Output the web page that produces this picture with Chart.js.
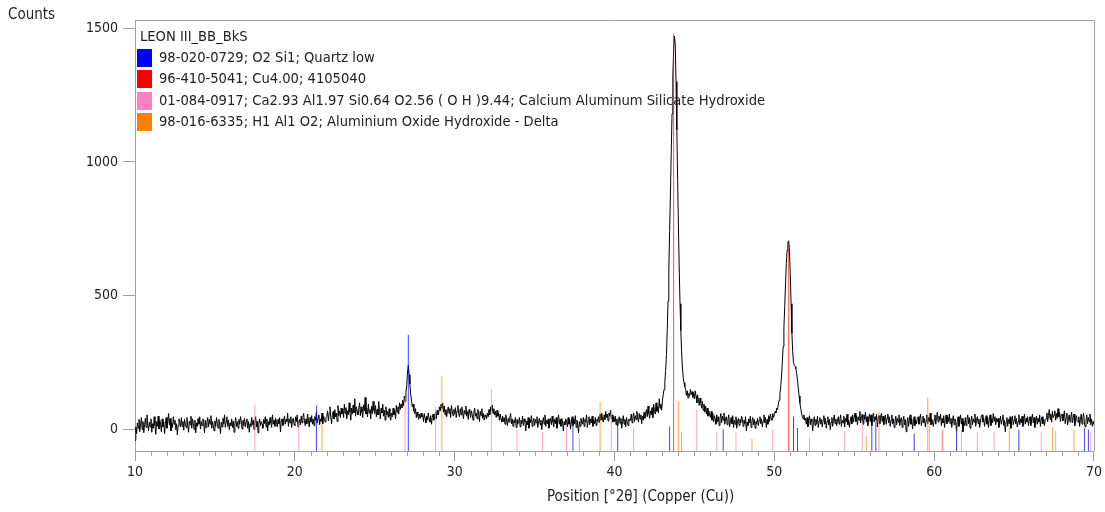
<!DOCTYPE html>
<html>
<head>
<meta charset="utf-8">
<script src="https://cdn.jsdelivr.net/npm/chart.js@4.4.1/dist/chart.umd.min.js"></script>
<style>
  html, body { margin: 0; padding: 0; background: #ffffff; }
  #wrap { position: relative; width: 1105px; height: 512px; }
</style>
</head>
<body>
<div id="wrap"><canvas id="c" width="1105" height="512"></canvas></div>
<script>
// Diffractogram, 10–70 °2θ, one count value every 0.05° (one row per degree)
const thetaStart = 10;
const thetaStep = 0.05;
const counts = [
  -40, 10, -15, 25, 5, 38, -8, 20, 45, 0, 30, -12, 18, 42, 8, 55, 15, -5, 28, 10,        // 10
  40, -10, 22, 5, 48, 15, -18, 30, 12, 50, 2, 35, 20, -8, 40, 10, 28, -15, 22, 45,       // 11
  5, 30, 60, 18, 42, -5, 25, 8, 48, 20, 35, 0, 22, -20, 15, 40, 28, 10, 45, 12,          // 12
  30, -2, 38, 20, 8, 45, 15, -10, 32, 18, 50, 5, 40, 22, 0, 35, -12, 25, 12, 42,         // 13
  20, 48, 2, 30, 15, 40, 25, -12, 35, 8, 28, 45, 10, 38, 20, 52, 5, 30, 15, -5,          // 14
  32, 12, 45, 22, 5, 38, 18, -15, 28, 10, 42, 20, 55, 8, 30, 48, 12, 35, 0, 25,          // 15
  15, 40, 8, 32, -10, 25, 45, 12, 30, 5, 38, 20, 48, 28, 2, 35, 15, 42, 10, 28,          // 16
  40, 5, 30, -10, 22, 12, 45, 18, 35, 0, 28, 48, 10, 32, -12, 25, 40, 15, 30, 20,        // 17
  5, 38, 22, 48, 10, 40, -5, 30, 18, 45, 25, 8, 55, 20, 35, 12, 42, 28, 10, 38,          // 18
  22, 45, -8, 32, 40, 15, 28, 50, 20, 38, 30, 62, 12, 40, 25, 48, 8, 35, 42, 20,         // 19
  15, 48, 30, 55, 10, 28, 38, 18, 50, 25, 45, 60, 32, 15, 40, 22, 58, 35, 10, 45,        // 20
  28, 52, 20, 40, 15, 48, 35, 65, 25, 42, 55, 18, 40, 30, 62, 22, 50, 38, 28, 45,        // 21
  50, 70, 32, 60, 85, 45, 22, 55, 68, 40, 75, 48, 62, 30, 90, 52, 70, 45, 80, 58,        // 22
  78, 45, 95, 60, 82, 40, 70, 55, 100, 65, 35, 80, 58, 92, 62, 115, 50, 85, 70, 55,      // 23
  75, 100, 52, 85, 65, 45, 92, 70, 120, 58, 80, 48, 95, 62, 75, 40, 88, 60, 105, 72,     // 24
  60, 90, 48, 75, 55, 105, 68, 40, 80, 62, 95, 50, 72, 35, 85, 55, 68, 45, 78, 50,       // 25
  35, 62, 48, 80, 55, 72, 40, 90, 65, 85, 58, 100, 75, 95, 82, 110, 90, 125, 105, 140,   // 26
  165, 215, 240, 205, 170, 130, 110, 85, 95, 70, 60, 78, 45, 65, 50, 38, 58, 42, 62, 48, // 27
  55, 30, 60, 42, 25, 50, 35, 62, 40, 28, 52, 20, 45, 58, 35, 48, 65, 40, 72, 55,        // 28
  60, 85, 70, 95, 80, 100, 65, 88, 55, 75, 48, 70, 85, 60, 78, 45, 90, 68, 52, 75,       // 29
  58, 82, 45, 70, 90, 60, 48, 78, 55, 85, 65, 40, 72, 58, 88, 50, 68, 38, 75, 62,        // 30
  45, 70, 55, 35, 65, 80, 50, 62, 40, 75, 58, 30, 68, 52, 78, 42, 60, 35, 55, 48,        // 31
  40, 62, 48, 75, 55, 85, 70, 92, 60, 78, 55, 68, 45, 72, 50, 62, 35, 58, 40, 28,        // 32
  50, 30, 45, 20, 55, 38, 15, 42, 28, 48, 60, 22, 40, 12, 35, 25, 45, 8, 38, 20,         // 33
  30, 45, 10, 35, 22, 50, 15, 40, 28, -5, 32, 18, 45, 5, 38, 25, 52, 12, 30, 42,         // 34
  15, 38, 25, 48, 8, 30, 42, 18, 35, 0, 28, 45, 20, 55, 12, 35, 22, 40, 5, 30,           // 35
  42, 18, 50, 28, 10, 38, 22, 45, 5, 32, 55, 20, 38, 12, 42, 28, -5, 30, 18, 40,         // 36
  32, 10, 45, 20, 38, 2, 28, 48, 15, 40, 22, 52, 8, 35, 18, -12, 30, 12, 42, 25,         // 37
  20, 45, 12, 38, 28, 55, 8, 32, 48, 18, 40, 25, 50, 12, 35, 22, 45, 15, 38, 30,         // 38
  48, 25, 58, 35, 62, 40, 28, 55, 38, 68, 45, 58, 32, 62, 50, 72, 40, 55, 28, 48,        // 39
  30, 50, 18, 40, 12, 35, 48, 22, 42, 5, 30, 52, 20, 38, 10, 45, 28, 15, 40, 32,         // 40
  35, 58, 25, 48, 62, 30, 52, 38, 68, 45, 28, 60, 40, 55, 22, 50, 35, 65, 42, 58,        // 41
  75, 48, 88, 60, 42, 70, 55, 82, 45, 95, 72, 58, 100, 68, 85, 62, 115, 80, 95, 72,      // 42
  110, 130, 150, 180, 220, 280, 370, 480, 600, 740, 880, 1030, 1180, 1320, 1420, 1470, 1440, 1300, 1120, 930, // 43
  760, 600, 470, 370, 290, 230, 195, 175, 160, 150, 128, 145, 118, 135, 125, 150, 130, 142, 120, 138,       // 44
  115, 145, 125, 100, 130, 110, 90, 118, 100, 80, 105, 72, 95, 65, 88, 58, 80, 50, 70, 55,                  // 45
  45, 68, 35, 60, 28, 52, 40, 20, 55, 30, 48, 15, 42, 60, 25, 50, 35, 62, 20, 40,        // 46
  48, 18, 38, 55, 10, 30, 45, 22, 52, 8, 35, 20, 48, 5, 32, 42, 15, 38, 25, 50,          // 47
  40, 12, 35, 22, 48, -5, 28, 15, 40, 25, 50, 8, 32, 45, 18, 38, 5, 30, 20, 42,          // 48
  15, 35, 48, 22, 40, 10, 32, 55, 25, 45, 8, 38, 20, 52, 30, 58, 42, 35, 60, 45,         // 49
  55, 68, 62, 80, 75, 95, 110, 135, 160, 200, 250, 310, 380, 460, 540, 620, 670, 700, 705, 660, // 50
  580, 470, 360, 290, 250, 240, 235, 228, 210, 185, 155, 125, 100, 80, 62, 48, 40, 55, 35, 42,  // 51
  20, 45, 10, 35, 52, 18, 40, 28, -5, 30, 48, 15, 38, 22, 50, 8, 32, 45, 20, 38,         // 52
  10, 35, 52, 20, 42, 5, 30, 48, 18, 38, 0, 28, 45, 12, 35, 55, 22, 40, 15, 30,          // 53
  48, 20, 38, 55, 12, 35, 25, 50, 10, 42, 28, 58, 18, 35, 8, 30, 48, 22, 55, 28,         // 54
  45, 62, 30, 52, 18, 48, 35, 68, 25, 45, 58, 20, 55, 38, 65, 28, 48, 15, 40, 58,        // 55
  30, 55, 15, 42, 62, 28, 48, 35, 58, 10, 38, 52, 22, 45, 60, 30, 50, 18, 40, 55,        // 56
  20, 42, 58, 25, 48, 12, 35, 55, 22, 40, 8, 32, 50, 18, 42, 28, 55, 15, 38, 45,         // 57
  8, 32, 50, 18, 38, -8, 25, 45, 12, 35, 55, 20, 40, 2, 28, 48, 15, 35, 22, 42,          // 58
  48, 20, 40, 58, 15, 32, 50, 25, 42, 10, 35, 55, 22, 45, 30, 62, 18, 40, 28, 12,        // 59
  38, 55, 20, 45, 65, 28, 50, 35, 58, 15, 42, 25, 52, 8, 38, 55, 22, 48, 30, 58,         // 60
  22, 42, 8, 35, 52, 18, 40, 28, -5, 30, 48, 12, 38, 55, 20, 42, -8, 30, 15, 45,         // 61
  15, 38, 55, 22, 45, 5, 32, 50, 18, 40, 28, 58, 12, 35, 48, 22, 40, 8, 32, 50,          // 62
  55, 28, 42, 12, 35, 52, 20, 45, 8, 38, 55, 15, 40, 25, 60, 32, 48, 18, 42, 28,         // 63
  42, 8, 32, 50, 20, 38, 55, 15, 35, -8, 28, 45, 12, 38, 22, 48, 5, 30, 50, 18,          // 64
  35, 52, 22, 42, 10, 30, 55, 18, 40, 25, 50, 12, 38, 58, 20, 42, 28, 48, 15, 35,        // 65
  48, 15, 38, 58, 25, 45, 8, 32, 50, 20, 42, 28, 55, 12, 35, 48, 22, 40, 15, 38,         // 66
  40, 62, 30, 52, 75, 38, 58, 28, 68, 45, 55, 70, 35, 60, 42, 78, 48, 65, 30, 55,        // 67
  58, 32, 50, 70, 22, 45, 62, 18, 40, 55, 28, 48, 65, 25, 42, 58, 15, 38, 52, 30,        // 68
  28, 48, 12, 38, 58, 20, 42, 62, 25, 10, 35, 55, 22, 45, 30, 58, 18, 40, 12, 30,        // 69
  20                                                                                     // 70
];

// Axis settings
const xMin = 10, xMax = 70;
const yMin = -80, yMax = 1530;
const xTickValues = [10, 20, 30, 40, 50, 60, 70];
const yTickValues = [0, 500, 1000, 1500];
const xAxisTitle = 'Position [°2θ] (Copper (Cu))';
const yAxisTitle = 'Counts';

// Legend
const sampleName = 'LEON III_BB_BkS';
const phaseLabels = [
  '98-020-0729; O2 Si1; Quartz low',
  '96-410-5041; Cu4.00; 4105040',
  '01-084-0917; Ca2.93 Al1.97 Si0.64 O2.56 ( O H )9.44; Calcium Aluminum Silicate Hydroxide',
  '98-016-6335; H1 Al1 O2; Aluminium Oxide Hydroxide - Delta'
];
const phaseColors = ['#0000ff', '#ff0000', '#ff80c0', '#ff8000'];
const stickColors = ['rgba(0,0,255,0.75)', 'rgba(255,0,0,0.7)', 'rgba(255,128,192,0.75)', 'rgba(255,128,0,0.7)'];

// Reference patterns: stick positions (°2θ) and the count level each stick reaches
const quartzPos = [21.35, 27.1, 37.4, 40.2, 43.45, 46.8, 51.2, 51.45, 56.1, 56.35, 58.75, 61.4, 65.3, 69.4, 69.65];
const quartzTop = [90, 355, 22, 10, 12, 2, 48, 6, 18, 28, -15, 8, 0, 6, 0];
const copperPos = [43.7, 50.9];
const copperTop = [1480, 690];
const silicatePos = [17.5, 20.25, 26.9, 28.8, 32.3, 33.9, 35.5, 37.0, 39.8, 41.2, 45.15, 46.4, 47.6, 49.9, 52.2, 54.4, 55.5, 59.7, 60.55, 61.7, 62.7, 63.75, 66.7, 67.6, 69.8];
const silicateTop = [94, 25, 120, 85, 150, 0, -8, 8, 75, 8, 75, -8, -10, 0, -30, -5, 28, 20, 0, 0, -10, -10, -10, -5, -10];
const boehmitePos = [21.7, 29.2, 37.8, 39.1, 44.0, 44.2, 48.6, 55.75, 56.55, 59.6, 60.5, 64.7, 67.4, 68.75];
const boehmiteTop = [20, 200, -30, 105, 105, -8, -35, -25, 70, 118, 0, 8, 10, 0];

const FONT = '"DejaVu Sans Condensed", "Liberation Sans", Arial, sans-serif';
const AXIS_GREY = '#a0a0a0';
const TEXT = '#222222';

const patternPoints = counts.map((c, i) => ({ x: +(thetaStart + i * thetaStep).toFixed(2), y: c }));

function stickPoints(pos, top) {
  const pts = [];
  pos.forEach((p, i) => {
    pts.push({ x: p, y: yMin }, { x: p, y: top[i] }, { x: p, y: null });
  });
  return pts;
}

function stickSet(label, pos, top, color) {
  return {
    label, data: stickPoints(pos, top),
    borderColor: color, borderWidth: 1, pointRadius: 0,
    spanGaps: false, tension: 0, order: 1
  };
}

// Frame, minor ticks, axis captions and phase legend
const decorations = {
  id: 'decorations',
  afterDraw(chart) {
    const { ctx, chartArea: a, scales: { x } } = chart;
    ctx.save();
    ctx.strokeStyle = AXIS_GREY;
    ctx.lineWidth = 1;
    ctx.beginPath();
    ctx.moveTo(a.left, a.top + 0.5);
    ctx.lineTo(a.right + 0.5, a.top + 0.5);
    ctx.lineTo(a.right + 0.5, a.bottom);
    ctx.stroke();

    ctx.beginPath();
    for (let v = xMin; v <= xMax; v++) {
      if (v % 10 === 0) continue;
      const px = Math.round(x.getPixelForValue(v)) + 0.5;
      ctx.moveTo(px, a.bottom);
      ctx.lineTo(px, a.bottom + 5);
    }
    ctx.stroke();

    ctx.fillStyle = TEXT;
    ctx.textBaseline = 'middle';
    ctx.textAlign = 'left';
    ctx.font = '15px ' + FONT;
    ctx.fillText(yAxisTitle, 8, 15);
    ctx.fillText(xAxisTitle, 547, 497);

    // legend
    ctx.font = '14.6px ' + FONT;
    ctx.fillText(sampleName, a.left + 5, 37);
    phaseLabels.forEach((lab, i) => {
      const cy = 58 + i * 21.4;
      ctx.fillStyle = phaseColors[i];
      ctx.fillRect(a.left + 2, Math.round(cy - 9), 15, 18);
      ctx.fillStyle = TEXT;
      ctx.fillText(lab, a.left + 24, cy);
    });
    ctx.restore();
  }
};

new Chart(document.getElementById('c'), {
  type: 'line',
  data: {
    datasets: [
      stickSet(phaseLabels[0], quartzPos, quartzTop, stickColors[0]),
      stickSet(phaseLabels[1], copperPos, copperTop, stickColors[1]),
      stickSet(phaseLabels[2], silicatePos, silicateTop, stickColors[2]),
      stickSet(phaseLabels[3], boehmitePos, boehmiteTop, stickColors[3]),
      {
        label: sampleName, data: patternPoints,
        borderColor: '#000000', borderWidth: 1, pointRadius: 0,
        tension: 0, order: 5
      }
    ]
  },
  options: {
    responsive: false,
    animation: false,
    devicePixelRatio: 1,
    layout: { padding: { left: 0, top: 20, right: 11, bottom: 0 } },
    plugins: { legend: { display: false }, tooltip: { enabled: false } },
    scales: {
      x: {
        type: 'linear', min: xMin, max: xMax,
        afterBuildTicks: s => { s.ticks = xTickValues.map(v => ({ value: v })); },
        afterFit: s => { s.height = 61; },
        grid: { drawOnChartArea: false, drawTicks: true, tickLength: 10, color: AXIS_GREY, tickColor: AXIS_GREY },
        border: { display: true, color: AXIS_GREY, width: 1 },
        ticks: { color: TEXT, font: { family: FONT, size: 14 }, padding: 3, maxRotation: 0, callback: v => String(v) },
        title: { display: false }
      },
      y: {
        type: 'linear', min: yMin, max: yMax,
        afterBuildTicks: s => { s.ticks = yTickValues.map(v => ({ value: v })); },
        afterFit: s => { s.width = 135; },
        grid: { drawOnChartArea: false, drawTicks: true, tickLength: 12, color: AXIS_GREY, tickColor: AXIS_GREY },
        border: { display: true, color: AXIS_GREY, width: 1 },
        ticks: { color: TEXT, font: { family: FONT, size: 14 }, padding: 5, callback: v => String(v) }
      }
    }
  },
  plugins: [decorations]
});
</script>
</body>
</html>
